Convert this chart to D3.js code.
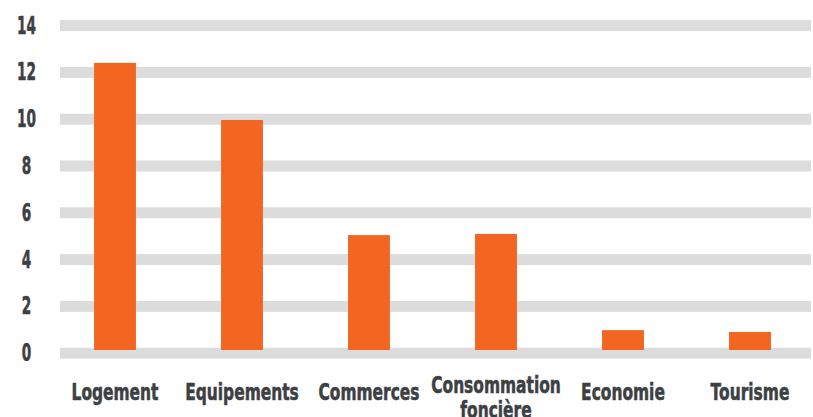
<!DOCTYPE html>
<html>
<head>
<meta charset="utf-8">
<script src="https://cdn.jsdelivr.net/npm/d3@7"></script>
<style>
  html, body { margin: 0; padding: 0; background: #fff; }
  svg { display: block; }
  text { font-family: "DejaVu Sans", "Liberation Sans", sans-serif; font-weight: bold; fill: #3d4043; stroke: #3d4043; stroke-width: 0.6px; }
</style>
</head>
<body>
<svg id="chart" width="813" height="417"></svg>
<script>
// Categories (multi-line labels split on "\n")
const categories = ["Logement", "Equipements", "Commerces", "Consommation\nfoncière", "Economie", "Tourisme"];
// Values per category
const values = [12.27, 9.83, 4.91, 4.96, 0.85, 0.77];
// Y-axis ticks
const yTicks = [0, 2, 4, 6, 8, 10, 12, 14];

const svg = d3.select("#chart");

const x = d3.scaleBand()
  .domain(categories)
  .range([51.5, 813.5])
  .paddingInner(0.67)
  .paddingOuter(0.335);

const y = d3.scaleLinear()
  .domain([0, 14])
  .range([350, 22.4]);

// Thick gray grid bands
svg.append("g").selectAll("rect")
  .data(yTicks)
  .join("rect")
  .attr("x", 60)
  .attr("width", 751)
  .attr("y", d => y(d) - 2.3)
  .attr("height", 11)
  .attr("fill", "#dcdcdc");

// Y tick labels (condensed horizontally)
const yl = svg.append("g").selectAll("text")
  .data(yTicks)
  .join("text")
  .attr("x", 0)
  .attr("y", d => y(d) + 3.2)
  .attr("text-anchor", "middle")
  .attr("dominant-baseline", "central")
  .style("font-size", "24px")
  .text(d => d);
const ySx = 19 / yl.filter(d => d === 14).node().getComputedTextLength();
yl.attr("transform", `translate(26.5,0) scale(${ySx},1)`);

// Bars
svg.append("g").selectAll("rect")
  .data(values)
  .join("rect")
  .attr("x", (d, i) => x(categories[i]))
  .attr("width", x.bandwidth())
  .attr("y", d => y(d))
  .attr("height", d => y(0) - y(d))
  .attr("fill", "#f36621");

// Category labels (condensed horizontally)
const lbl = svg.append("g").selectAll("text")
  .data(categories)
  .join("text")
  .attr("text-anchor", "middle")
  .style("font-size", "23px");

lbl.each(function(d) {
  const lines = d.split("\n");
  const t = d3.select(this);
  const base = lines.length > 1 ? 392.7 : 400;
  lines.forEach((ln, j) => {
    t.append("tspan").attr("x", 0).attr("y", base + j * 25).text(ln);
  });
});
const xSx = 87 / lbl.filter(d => d === "Logement").node().getComputedTextLength();
lbl.attr("transform", d => `translate(${x(d) + x.bandwidth() / 2},0) scale(${xSx},1)`);
</script>
</body>
</html>
